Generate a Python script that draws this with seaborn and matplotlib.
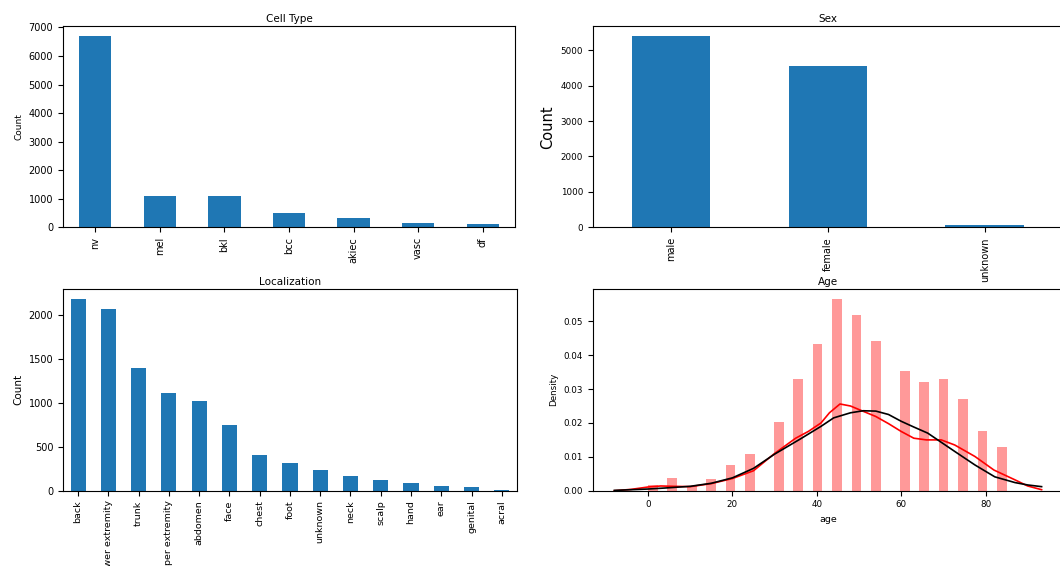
import numpy as np
import matplotlib
matplotlib.use("Agg")
import matplotlib.pyplot as plt
import seaborn as sb

# ---- data ----
cell_types = ["nv", "mel", "bkl", "bcc", "akiec", "vasc", "df"]
cell_counts = [6705, 1113, 1099, 514, 327, 142, 115]

sexes = ["male", "female", "unknown"]
sex_counts = [5406, 4552, 57]

locations = ["back", "lower extremity", "trunk", "upper extremity", "abdomen", "face",
             "chest", "foot", "unknown", "neck", "scalp", "hand", "ear", "genital", "acral"]
location_counts = [2192, 2077, 1404, 1118, 1022, 745, 407, 319, 234, 168, 128, 90, 56, 48, 7]

age_values = [0, 5, 10, 15, 20, 25, 30, 35, 40, 45, 50, 55, 60, 65, 70, 75, 80, 85]
age_density = [0.0017, 0.0038, 0.0015, 0.0034, 0.0075, 0.0108, 0.0202, 0.0330, 0.0434,
               0.0567, 0.0520, 0.0442, 0.0352, 0.0321, 0.0330, 0.0270, 0.0177, 0.0128]

kde_x = [-8, -4, 0, 3, 6, 10, 15, 20, 25, 30, 35, 38, 41, 43, 45.5, 48, 50.5, 54, 57,
         60, 63, 66, 69.5, 72.7, 77.5, 82, 87, 90, 93.3]
kde_y = [0.0000, 0.0004, 0.0011, 0.0014, 0.0013, 0.0012, 0.0021, 0.0036, 0.0059, 0.0110,
         0.0155, 0.0175, 0.0200, 0.0230, 0.0256, 0.0250, 0.0237, 0.0219, 0.0198,
         0.0175, 0.0155, 0.0150, 0.0150, 0.0135, 0.0101, 0.0061, 0.0032, 0.0014, 0.0003]

fit_x = [-8, -4, 0, 4, 10, 15, 20, 25, 30, 36, 41, 44, 48, 51, 54, 57, 60, 63, 66.3,
         69.5, 72.7, 77.5, 82.2, 87, 90, 93.3]
fit_y = [0.0001, 0.0003, 0.0005, 0.0008, 0.0013, 0.0022, 0.0038, 0.0066, 0.0108, 0.0152,
         0.0190, 0.0215, 0.0230, 0.0236, 0.0235, 0.0225, 0.0205, 0.0188, 0.0170,
         0.0143, 0.0116, 0.0076, 0.0041, 0.0024, 0.0017, 0.0012]

BLUE = "#1f77b4"

fig = plt.figure(figsize=(10.6, 5.66), dpi=100)

#---------------- Cell Type
ax1 = fig.add_axes([0.0594, 0.5984, 0.4264, 0.3551])
sb.barplot(x=cell_types, y=cell_counts, color=BLUE, saturation=1, width=0.5, ax=ax1)
ax1.set_title("Cell Type", fontsize=7.5, pad=3)
ax1.set_ylabel("Count", fontsize=6.5)
ax1.tick_params(axis="x", rotation=90, labelsize=7)
ax1.tick_params(axis="y", labelsize=7)

#---------------- Sex
ax2 = fig.add_axes([0.5594, 0.5984, 0.4434, 0.3551])
sb.barplot(x=sexes, y=sex_counts, color=BLUE, saturation=1, width=0.5, ax=ax2)
ax2.set_title("Sex", fontsize=7.5, pad=3)
ax2.set_ylabel("Count", fontsize=10.5)
ax2.tick_params(axis="x", rotation=90, labelsize=7)
ax2.tick_params(axis="y", labelsize=6.3)

#---------------- Localization
ax3 = fig.add_axes([0.0594, 0.1330, 0.4283, 0.3564])
sb.barplot(x=locations, y=location_counts, color=BLUE, saturation=1, width=0.5, ax=ax3)
ax3.set_title("Localization", fontsize=7.5, pad=3)
ax3.set_ylabel("Count", fontsize=7.5)
ax3.tick_params(axis="x", rotation=90, labelsize=6.8)
ax3.tick_params(axis="y", labelsize=7)

#---------------- Age
ax4 = fig.add_axes([0.5594, 0.1330, 0.4434, 0.3564])
sb.histplot(x=age_values, weights=age_density, binwidth=85 / 37, binrange=(0, 85),
            color="red", alpha=0.4, linewidth=0, ax=ax4)
sb.lineplot(x=kde_x, y=kde_y, color="red", linewidth=1.2, ax=ax4)
sb.lineplot(x=fit_x, y=fit_y, color="black", linewidth=1.2, ax=ax4)
ax4.set_title("Age", fontsize=7.5, pad=3)
ax4.set_ylabel("Density", fontsize=6.3)
ax4.set_xlabel("age", fontsize=6.8)
ax4.tick_params(labelsize=6.3)

fig.savefig("out.png", dpi=100)
